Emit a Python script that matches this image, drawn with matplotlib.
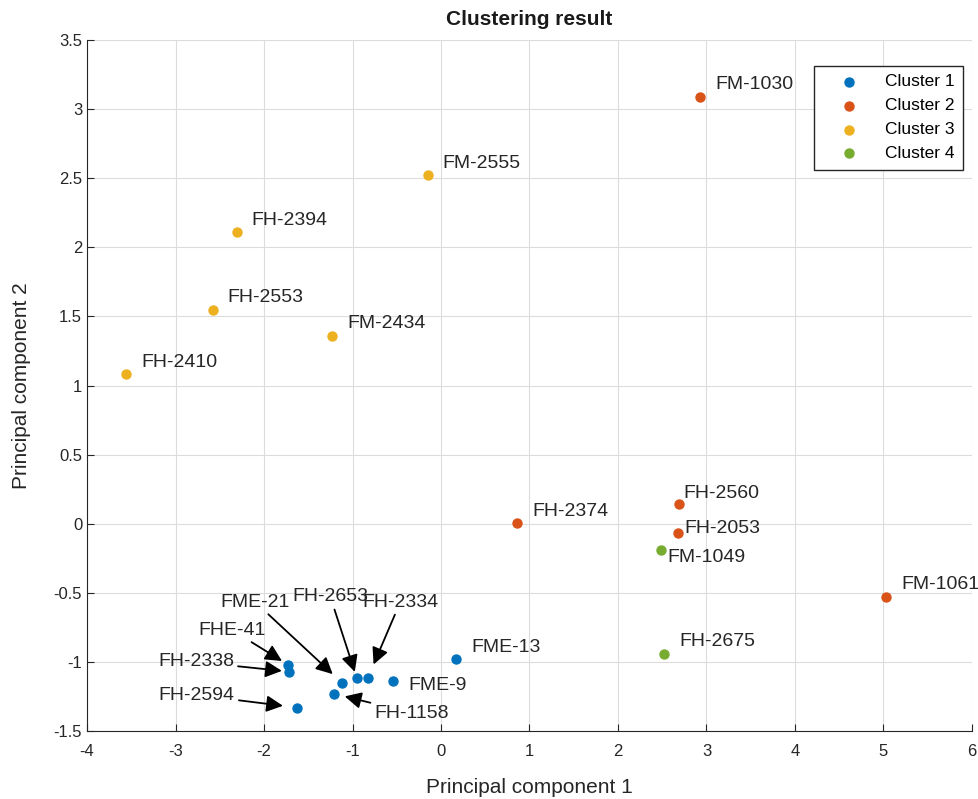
import numpy as np
from matplotlib import pyplot as plt

plt.rcParams['font.family'] = ['Liberation Sans', 'DejaVu Sans']
plt.rcParams['axes.unicode_minus'] = False

# cluster data (principal components)
c1_names = ['FME-13', 'FME-9', 'FH-2334', 'FH-2653', 'FME-21', 'FH-1158', 'FHE-41', 'FH-2338', 'FH-2594']
c1_x = [0.17, -0.54, -0.83, -0.95, -1.12, -1.21, -1.73, -1.72, -1.63]
c1_y = [-0.98, -1.14, -1.12, -1.12, -1.15, -1.23, -1.02, -1.07, -1.33]

c2_names = ['FM-1030', 'FH-2374', 'FH-2560', 'FH-2053', 'FM-1061']
c2_x = [2.93, 0.86, 2.69, 2.68, 5.03]
c2_y = [3.09, 0.005, 0.14, -0.07, -0.53]

c3_names = ['FM-2555', 'FH-2394', 'FH-2553', 'FM-2434', 'FH-2410']
c3_x = [-0.15, -2.31, -2.58, -1.23, -3.56]
c3_y = [2.52, 2.11, 1.55, 1.36, 1.08]

c4_names = ['FM-1049', 'FH-2675']
c4_x = [2.49, 2.52]
c4_y = [-0.19, -0.94]

colors = ['#0072BD', '#D95319', '#EDB120', '#77AC30']
txtc = '#262626'

fig = plt.figure(figsize=(9.79, 7.99), dpi=100)
ax = fig.add_axes([0.0889, 0.0851, 0.9039, 0.8648])

groups = [(c1_x, c1_y), (c2_x, c2_y), (c3_x, c3_y), (c4_x, c4_y)]
for i, (gx, gy) in enumerate(groups):
    ax.scatter(gx, gy, s=42, color=colors[i], label='Cluster %d' % (i + 1), zorder=3)

# labels placed next to their point, offset in pixels (dx, dy up)
offs = {'FH-2560': (4, 11), 'FH-2053': (6, 5), 'FM-1049': (6, -8), 'FME-9': (15, -4)}
arrow_txt = {
    'FME-21': (-2.10, -0.567, 9),
    'FH-2653': (-1.25, -0.53, 5),
    'FH-2334': (-0.46, -0.567, 11),
    'FHE-41': (-2.36, -0.77, 5),
    'FH-2338': (-2.77, -1.0, 5),
    'FH-2594': (-2.76, -1.24, 10),
    'FH-1158': (-0.33, -1.37, 8),
}

all_names = c1_names + c2_names + c3_names + c4_names
all_x = c1_x + c2_x + c3_x + c4_x
all_y = c1_y + c2_y + c3_y + c4_y
for n, x, y in zip(all_names, all_x, all_y):
    if n in arrow_txt:
        tx, ty, sb = arrow_txt[n]
        ax.annotate(n, xy=(x, y), xytext=(tx, ty), textcoords='data',
                    fontsize=14, color=txtc, ha='center', va='center',
                    arrowprops=dict(arrowstyle='-|>,head_length=0.5,head_width=0.25',
                                    color='k', lw=1.3, mutation_scale=20,
                                    shrinkA=1, shrinkB=sb),
                    zorder=4)
    else:
        dx, dy = offs.get(n, (15, 12))
        ax.annotate(n, xy=(x, y), xytext=(dx * 0.72, dy * 0.72), textcoords='offset points',
                    fontsize=14, color=txtc, ha='left', va='center')

ax.set_xlim(-4, 6)
ax.set_ylim(-1.5, 3.5)
ax.set_xticks(np.arange(-4, 7, 1))
ax.set_yticks(np.arange(-1.5, 3.6, 0.5))
ax.set_yticklabels(['-1.5', '-1', '-0.5', '0', '0.5', '1', '1.5', '2', '2.5', '3', '3.5'])
ax.grid(True, color='#dcdcdc', lw=0.8)
ax.set_axisbelow(True)
ax.tick_params(direction='in', labelsize=12, colors=txtc, length=5)
ax.tick_params(axis='x', pad=9)
for s in ['top', 'right']:
    ax.spines[s].set_visible(False)
for s in ['left', 'bottom']:
    ax.spines[s].set_color(txtc)

ax.set_title('Clustering result', fontsize=15, fontweight='bold', color='#1a1a1a', pad=11)
ax.set_xlabel('Principal component 1', fontsize=15, color=txtc, labelpad=14)
ax.set_ylabel('Principal component 2', fontsize=15, color=txtc, labelpad=16)

leg = ax.legend(loc='upper right', bbox_to_anchor=(0.990, 0.963), fontsize=12.5,
                fancybox=False, edgecolor=txtc, framealpha=1,
                handletextpad=0.55, borderpad=0.5, labelspacing=0.5,
                borderaxespad=0, handlelength=3.0)
leg.get_frame().set_linewidth(1.0)

plt.savefig('out.png', dpi=100)
